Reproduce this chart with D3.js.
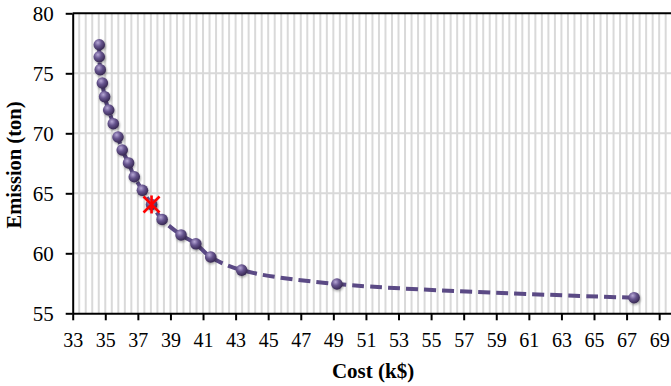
<!DOCTYPE html>
<html>
<head>
<meta charset="utf-8">
<script src="https://cdn.jsdelivr.net/npm/d3@7"></script>
<style>
  html, body { margin: 0; padding: 0; background: #ffffff; }
  svg { display: block; }
</style>
</head>
<body>
<svg id="chart" width="671" height="386"></svg>
<script>
// Pareto front: cost (k$) vs emission (ton)
const costs = [34.63, 34.63, 34.69, 34.82, 34.96, 35.21, 35.49, 35.78, 36.04, 36.43,
               36.78, 37.28, 37.84, 38.49, 39.65, 40.56, 41.47, 43.37, 49.22, 67.46];
const emissions = [77.38, 76.38, 75.30, 74.19, 73.05, 71.94, 70.80, 69.69, 68.61, 67.53,
                   66.38, 65.25, 64.07, 62.82, 61.53, 60.79, 59.69, 58.60, 57.44, 56.30];
// chosen compromise solution
const selectedCost = [37.84];
const selectedEmission = [64.07];

const xTicks = d3.range(33, 70, 2);
const yTicks = [55, 60, 65, 70, 75, 80];
const xMinorStep = 0.4;

const svg = d3.select("#chart");
const plotLeft = 72.7, plotRight = 672.2, plotTop = 13.3, plotBottom = 313.3;
const serif = "'Liberation Serif', 'Times New Roman', serif";

const x = d3.scaleLinear().domain([33, 69.8]).range([plotLeft, plotRight]);
const y = d3.scaleLinear().domain([55, 80]).range([plotBottom, plotTop]);

const defs = svg.append("defs");
const grad = defs.append("radialGradient")
  .attr("id", "ball").attr("cx", "38%").attr("cy", "32%").attr("r", "70%");
grad.append("stop").attr("offset", "0%").attr("stop-color", "#b7a8d6");
grad.append("stop").attr("offset", "45%").attr("stop-color", "#67558f");
grad.append("stop").attr("offset", "100%").attr("stop-color", "#35264f");
const shadow = defs.append("filter").attr("id", "shadow")
  .attr("x", "-50%").attr("y", "-50%").attr("width", "200%").attr("height", "200%");
shadow.append("feDropShadow").attr("dx", 0.8).attr("dy", 1.5).attr("stdDeviation", 1.2)
  .attr("flood-color", "#000").attr("flood-opacity", 0.35);

// vertical grid (minor step)
const vGrid = d3.range(33 + xMinorStep, 69.8, xMinorStep);
svg.append("g").selectAll("line").data(vGrid).join("line")
  .attr("x1", d => x(d)).attr("x2", d => x(d))
  .attr("y1", plotTop).attr("y2", plotBottom)
  .attr("stroke", "#d9d9d9").attr("stroke-width", 2);

// horizontal grid
svg.append("g").selectAll("line").data(yTicks.filter(v => v > 55 && v < 80)).join("line")
  .attr("x1", plotLeft).attr("x2", 671)
  .attr("y1", d => y(d)).attr("y2", d => y(d))
  .attr("stroke", "#d9d9d9").attr("stroke-width", 2);

// top frame line
svg.append("line")
  .attr("x1", plotLeft).attr("x2", 671).attr("y1", y(80)).attr("y2", y(80))
  .attr("stroke", "#000").attr("stroke-width", 2);

// axes
const xAxis = d3.axisBottom(x).tickValues(xTicks).tickSize(7).tickSizeOuter(0).tickPadding(13);
const gx = svg.append("g").attr("transform", `translate(0,${plotBottom})`).call(xAxis);
gx.select(".domain").attr("stroke", "#000").attr("stroke-width", 2);
gx.selectAll(".tick line").attr("stroke", "#000").attr("stroke-width", 2);
gx.selectAll(".tick text")
  .attr("font-family", serif)
  .attr("font-size", 20).attr("fill", "#000");

const yAxis = d3.axisLeft(y).tickValues(yTicks).tickSize(7).tickSizeOuter(0).tickPadding(12);
const gy = svg.append("g").attr("transform", `translate(${plotLeft},0)`).call(yAxis);
gy.select(".domain").attr("stroke", "#000").attr("stroke-width", 2);
gy.selectAll(".tick line").attr("stroke", "#000").attr("stroke-width", 2);
gy.selectAll(".tick text")
  .attr("font-family", serif)
  .attr("font-size", 21).attr("fill", "#000");

// axis titles
svg.append("text")
  .attr("x", 373).attr("y", 378)
  .attr("text-anchor", "middle")
  .attr("font-family", serif)
  .attr("font-weight", "bold").attr("font-size", 21)
  .text("Cost (k$)");
svg.append("text")
  .attr("transform", "translate(21,165) rotate(-90)")
  .attr("text-anchor", "middle")
  .attr("font-family", serif)
  .attr("font-weight", "bold").attr("font-size", 20.5)
  .text("Emission (ton)");

// smoothed dashed front line
const pts = costs.map((c, i) => [c, emissions[i]]);
const line = d3.line().x(d => x(d[0])).y(d => y(d[1])).curve(d3.curveCatmullRom.alpha(0.5));
svg.append("path")
  .attr("d", line(pts))
  .attr("fill", "none")
  .attr("stroke", "#5b4a85")
  .attr("stroke-width", 4)
  .attr("stroke-dasharray", "12,6");

// spherical markers
svg.append("g").selectAll("circle").data(pts).join("circle")
  .attr("cx", d => x(d[0])).attr("cy", d => y(d[1]))
  .attr("r", 5.8)
  .attr("fill", "url(#ball)")
  .attr("filter", "url(#shadow)");

// selected solution: red asterisk
const sx = x(selectedCost[0]), sy = y(selectedEmission[0]);
const s = 8;
const star = svg.append("g").attr("stroke", "#ff0000").attr("stroke-width", 2.6).attr("stroke-linecap", "butt");
star.append("line").attr("x1", sx - s).attr("y1", sy - s).attr("x2", sx + s).attr("y2", sy + s);
star.append("line").attr("x1", sx - s).attr("y1", sy + s).attr("x2", sx + s).attr("y2", sy - s);
star.append("line").attr("x1", sx).attr("y1", sy - s - 1).attr("x2", sx).attr("y2", sy + s + 1);
</script>
</body>
</html>
